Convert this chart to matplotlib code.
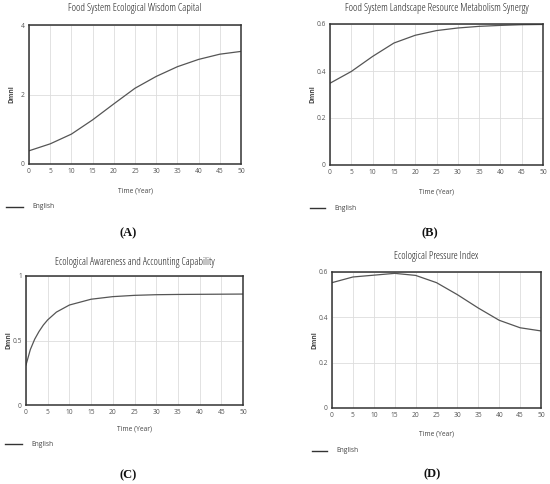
import matplotlib
matplotlib.use('Agg')
import matplotlib.pyplot as plt

plt.rcParams['font.family'] = ['Open Sans', 'DejaVu Sans']

W, H = 550, 484

years = [0, 5, 10, 15, 20, 25, 30, 35, 40, 45, 50]

# panel A
wisdom_t = years
wisdom = [0.38, 0.58, 0.86, 1.27, 1.73, 2.18, 2.52, 2.80, 3.01, 3.16, 3.24]

# panel B
synergy_t = years
synergy = [0.348, 0.398, 0.462, 0.519, 0.552, 0.572, 0.583, 0.590, 0.594, 0.597, 0.598]

# panel C
awareness_t = [0, 1, 2, 3, 4, 5, 7, 10, 15, 20, 25, 30, 35, 40, 45, 50]
awareness = [0.31, 0.43, 0.51, 0.57, 0.62, 0.66, 0.72, 0.775, 0.82, 0.84, 0.85, 0.855, 0.857, 0.858, 0.859, 0.86]

# panel D
pressure_t = years
pressure = [0.553, 0.578, 0.586, 0.594, 0.585, 0.553, 0.500, 0.441, 0.387, 0.354, 0.340]

panels = [
    dict(title='Food System Ecological Wisdom Capital', t=wisdom_t, y=wisdom,
         ymax=4, yticks=[0, 2, 4], ylabels=['0', '2', '4'],
         box=(29, 25, 241, 164), title_y=9, xlab_y=191,
         leg=(6, 23, 207), tag='(A)', tag_xy=(128, 233)),
    dict(title='Food System Landscape Resource Metabolism Synergy', t=synergy_t, y=synergy,
         ymax=0.6, yticks=[0, 0.2, 0.4, 0.6], ylabels=['0', '0.2', '0.4', '0.6'],
         box=(330, 24, 543, 165), title_y=9, xlab_y=192,
         leg=(310, 325, 208), tag='(B)', tag_xy=(430, 233)),
    dict(title='Ecological Awareness and Accounting Capability', t=awareness_t, y=awareness,
         ymax=1, yticks=[0, 0.5, 1], ylabels=['0', '0.5', '1'],
         box=(26, 276, 243, 405), title_y=262, xlab_y=429,
         leg=(5, 22, 444), tag='(C)', tag_xy=(128, 475)),
    dict(title='Ecological Pressure Index', t=pressure_t, y=pressure,
         ymax=0.6, yticks=[0, 0.2, 0.4, 0.6], ylabels=['0', '0.2', '0.4', '0.6'],
         box=(332, 272, 541, 408), title_y=256, xlab_y=434,
         leg=(312, 327, 451), tag='(D)', tag_xy=(432, 474)),
]

fig = plt.figure(figsize=(W / 100, H / 100), dpi=100)

for p in panels:
    l, t, r, b = p['box']
    ax = fig.add_axes([l / W, 1 - b / H, (r - l) / W, (b - t) / H])
    ax.plot(p['t'], p['y'], color='#555555', lw=0.9)
    ax.set_xlim(0, 50)
    ax.set_ylim(0, p['ymax'])
    ax.set_xticks(years)
    ax.set_yticks(p['yticks'])
    ax.set_yticklabels(p['ylabels'])
    ax.grid(True, color='#dddddd', lw=0.6)
    ax.tick_params(length=0, labelsize=4.8, labelcolor='#555555', pad=3)
    for s in ax.spines.values():
        s.set_color('#333333')
        s.set_linewidth(1.1)
    cx = (l + r) / 2
    fig.text((l - 17) / W, 1 - (t + b) / 2 / H, 'Dmnl', rotation=90, ha='center', va='center',
             fontsize=4.8, color='#444444', fontweight='bold')
    fig.text(cx / W, 1 - p['title_y'] / H, p['title'], ha='center', va='center',
             fontsize=7.5, color='#1a1a1a', fontstretch='condensed')
    fig.text(cx / W, 1 - p['xlab_y'] / H, 'Time (Year)', ha='center', va='center',
             fontsize=4.8, color='#444444')
    x0, x1, ly = p['leg']
    fig.add_artist(plt.Line2D([x0 / W, x1 / W], [1 - ly / H, 1 - ly / H],
                              color='#333333', lw=1.0))
    fig.text((x1 + 9) / W, 1 - ly / H, 'English', ha='left', va='center',
             fontsize=4.8, color='#444444')
    tx, ty = p['tag_xy']
    fig.text(tx / W, 1 - ty / H, p['tag'], ha='center', va='center',
             fontsize=9, fontweight='bold', family='Liberation Serif', color='#111111')

fig.savefig('out.png', dpi=100)
